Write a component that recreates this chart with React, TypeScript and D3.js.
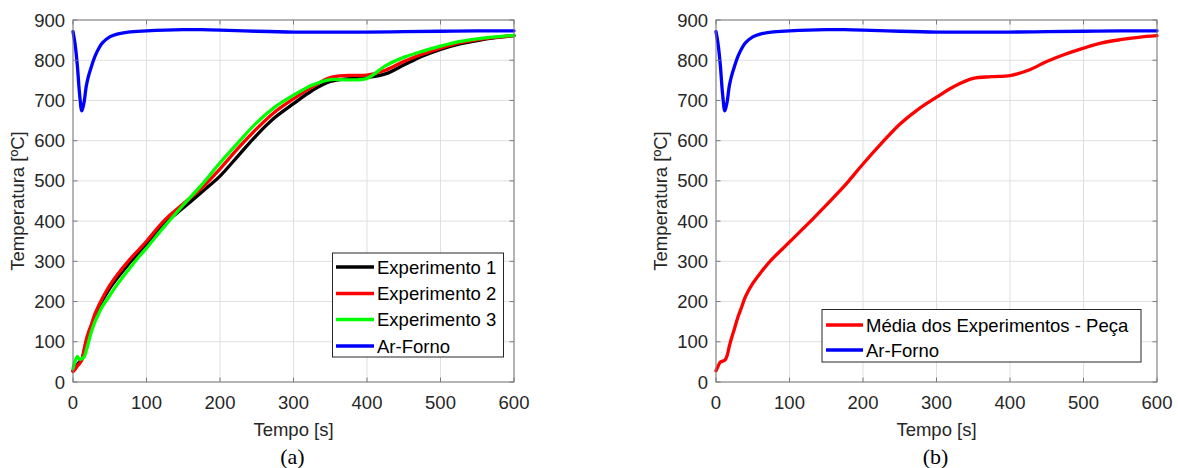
import React from "react";
import * as d3 from "d3";

const xTicks = [0, 100, 200, 300, 400, 500, 600];
const yTicks = [0, 100, 200, 300, 400, 500, 600, 700, 800, 900];

const tExp = [0, 3, 6, 9, 12, 15, 18, 21, 25, 30, 35, 40, 50, 60, 75, 90, 100, 125, 150, 175, 200, 225, 250, 275, 300, 325, 350, 375, 400, 425, 450, 475, 500, 525, 550, 575, 600];
const exp1 = [28, 35, 43, 50, 56, 75, 98, 118, 140, 165, 186, 203, 233, 258, 292, 322, 342, 394, 433, 472, 512, 563, 614, 658, 692, 724, 747, 754, 757, 766, 788, 810, 827, 840, 849, 856, 861];
const exp2 = [26, 32, 40, 46, 55, 80, 105, 123, 143, 170, 190, 208, 240, 266, 300, 330, 350, 403, 443, 482, 530, 582, 630, 672, 704, 733, 757, 762, 763, 775, 797, 815, 830, 843, 851, 857, 861];
const exp3 = [33, 52, 63, 57, 58, 62, 78, 98, 125, 150, 170, 188, 215, 242, 278, 312, 333, 388, 440, 490, 545, 596, 645, 684, 713, 738, 752, 751, 755, 786, 807, 822, 835, 846, 853, 858, 862];
const media = [28, 40, 50, 52, 54, 65, 88, 108, 132, 162, 187, 212, 245, 270, 303, 330, 348, 393, 440, 488, 542, 593, 641, 678, 708, 736, 755, 759, 762, 775, 797, 815, 830, 843, 851, 857, 861];

const tForno = [0, 3, 6, 9, 12, 15, 18, 21, 25, 30, 35, 40, 50, 60, 75, 100, 125, 150, 175, 200, 250, 300, 350, 400, 450, 500, 550, 600];
const forno = [871, 838, 785, 715, 674, 695, 735, 760, 784, 810, 829, 843, 858, 865, 870, 873, 875, 876, 876, 875, 872, 870, 870, 870, 871, 872, 873, 873];

const labelsA = ["Experimento 1", "Experimento 2", "Experimento 3", "Ar-Forno"];
const colorsA = ["#000000", "#ff0000", "#00ff00", "#0000ff"];
const labelsB = ["Média dos Experimentos - Peça", "Ar-Forno"];
const colorsB = ["#ff0000", "#0000ff"];

const FONT = "'Liberation Sans', Arial, Helvetica, sans-serif";
const TXT = "#262626";
const FS = 18.5;

type Series = { t: number[]; v: number[]; color: string };

function Panel(props: {
  x0: number;
  x1: number;
  series: Series[];
  labels: string[];
  colors: string[];
  legend: { x: number; y: number; w: number; h: number; lineX0: number; lineX1: number; textX: number; rows: number[] };
  ylabelX: number;
  caption: string;
}) {
  const { x0, x1, series, labels, colors, legend, ylabelX, caption } = props;
  const y0 = 382;
  const y1 = 20;
  const x = d3.scaleLinear().domain([0, 600]).range([x0, x1]);
  const y = d3.scaleLinear().domain([0, 900]).range([y0, y1]);
  const line = d3
    .line<[number, number]>()
    .x((d) => x(d[0]))
    .y((d) => y(d[1]))
    .curve(d3.curveCatmullRom.alpha(0.5));
  const cx = (x0 + x1) / 2;
  const tl = 4.5;
  return (
    <g>
      <rect x={x0} y={y1} width={x1 - x0} height={y0 - y1} fill="#fff" />
      {xTicks.map((t) => (
        <line key={"gx" + t} x1={x(t)} x2={x(t)} y1={y1} y2={y0} stroke="#dfdfdf" strokeWidth={1} />
      ))}
      {yTicks.map((t) => (
        <line key={"gy" + t} x1={x0} x2={x1} y1={y(t)} y2={y(t)} stroke="#dfdfdf" strokeWidth={1} />
      ))}
      {series.map((s, i) => (
        <path
          key={i}
          d={line(s.t.map((tt, j) => [tt, s.v[j]] as [number, number])) || ""}
          fill="none"
          stroke={s.color}
          strokeWidth={3.3}
          strokeLinejoin="round"
          strokeLinecap="round"
        />
      ))}
      {xTicks.map((t) => (
        <g key={"tx" + t}>
          <line x1={x(t)} x2={x(t)} y1={y0} y2={y0 - tl} stroke="#7a7a7a" />
          <line x1={x(t)} x2={x(t)} y1={y1} y2={y1 + tl} stroke="#7a7a7a" />
          <text x={x(t)} y={409} textAnchor="middle" fontFamily={FONT} fontSize={FS} fill={TXT}>
            {t}
          </text>
        </g>
      ))}
      {yTicks.map((t) => (
        <g key={"ty" + t}>
          <line x1={x0} x2={x0 + tl} y1={y(t)} y2={y(t)} stroke="#7a7a7a" />
          <line x1={x1} x2={x1 - tl} y1={y(t)} y2={y(t)} stroke="#7a7a7a" />
          <text x={x0 - 8} y={y(t) + 6.5} textAnchor="end" fontFamily={FONT} fontSize={FS} fill={TXT}>
            {t}
          </text>
        </g>
      ))}
      <rect x={x0} y={y1} width={x1 - x0} height={y0 - y1} fill="none" stroke="#7a7a7a" strokeWidth={1} />
      <text x={cx} y={436} textAnchor="middle" fontFamily={FONT} fontSize={FS} fill={TXT}>
        Tempo [s]
      </text>
      <text
        transform={`translate(${ylabelX},${(y0 + y1) / 2}) rotate(-90)`}
        textAnchor="middle"
        fontFamily={FONT}
        fontSize={FS}
        fill={TXT}
      >
        Temperatura [ºC]
      </text>
      <text x={cx - 1} y={464} textAnchor="middle" fontFamily="'Liberation Serif', 'Times New Roman', serif" fontSize={22} fill="#000">
        {caption}
      </text>
      <rect x={legend.x} y={legend.y} width={legend.w} height={legend.h} fill="#fff" stroke="#262626" strokeWidth={1} />
      {labels.map((lab, i) => (
        <g key={lab}>
          <line x1={legend.lineX0} x2={legend.lineX1} y1={legend.rows[i]} y2={legend.rows[i]} stroke={colors[i]} strokeWidth={3.3} />
          <text x={legend.textX} y={legend.rows[i] + 6.5} fontFamily={FONT} fontSize={FS} fill="#000">
            {lab}
          </text>
        </g>
      ))}
    </g>
  );
}

export default function App() {
  const seriesA: Series[] = [
    { t: tForno, v: forno, color: colorsA[3] },
    { t: tExp, v: exp1, color: colorsA[0] },
    { t: tExp, v: exp2, color: colorsA[1] },
    { t: tExp, v: exp3, color: colorsA[2] },
  ];
  const seriesB: Series[] = [
    { t: tForno, v: forno, color: colorsB[1] },
    { t: tExp, v: media, color: colorsB[0] },
  ];
  return (
    <svg width={1178} height={468} style={{ position: "absolute", left: 0, top: 0, background: "#fff" }}>
      <rect x={0} y={0} width={1178} height={468} fill="#fff" />
      <Panel
        x0={73}
        x1={514}
        series={seriesA}
        labels={labelsA}
        colors={colorsA}
        legend={{ x: 332.5, y: 253, w: 171, h: 104, lineX0: 336, lineX1: 374, textX: 377, rows: [267, 293.5, 319.5, 346] }}
        ylabelX={24}
        caption="(a)"
      />
      <Panel
        x0={716}
        x1={1157}
        series={seriesB}
        labels={labelsB}
        colors={colorsB}
        legend={{ x: 822, y: 309.5, w: 319, h: 52.5, lineX0: 826, lineX1: 863, textX: 866, rows: [325, 350] }}
        ylabelX={667}
        caption="(b)"
      />
    </svg>
  );
}
